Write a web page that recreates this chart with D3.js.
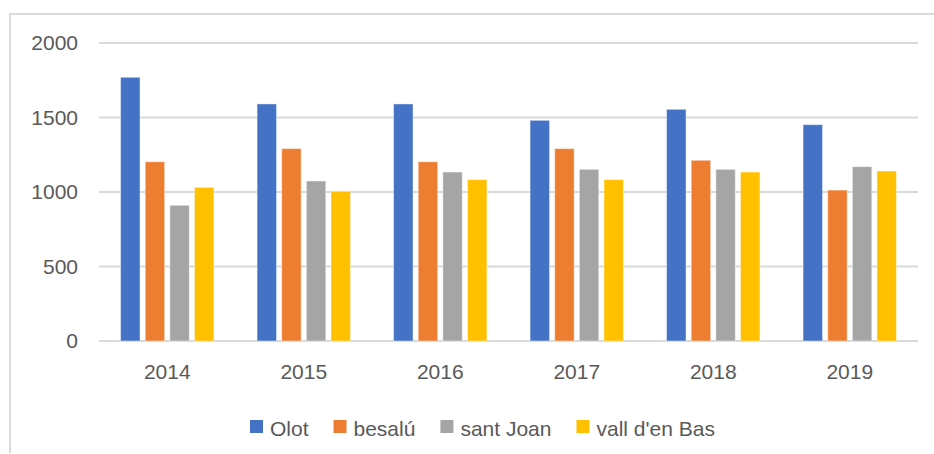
<!DOCTYPE html>
<html>
<head>
<meta charset="utf-8">
<script src="https://cdn.jsdelivr.net/npm/d3@7"></script>
<style>
  html, body { margin: 0; padding: 0; background: #fff; }
  svg { display: block; }
  text { font-family: "Liberation Sans", Arial, sans-serif; fill: #595959; }
</style>
</head>
<body>
<svg id="chart" width="934" height="454"></svg>
<script>
// Yearly figures per municipality
const years = ["2014", "2015", "2016", "2017", "2018", "2019"];
const seriesNames = ["Olot", "besalú", "sant Joan", "vall d'en Bas"];
const olot     = [1770, 1591, 1591, 1481, 1555, 1452];
const besalu   = [1203, 1291, 1203, 1291, 1213, 1013];
const santJoan = [911, 1074, 1134, 1152, 1152, 1170];
const vallBas  = [1031, 1005, 1083, 1083, 1134, 1141];
const yTicks = [0, 500, 1000, 1500, 2000];
const colors = ["#4472C4", "#ED7D31", "#A5A5A5", "#FFC000"];

const seriesValues = [olot, besalu, santJoan, vallBas];
const rows = years.map((y, i) => ({
  year: y,
  values: seriesNames.map((s, k) => ({ name: s, value: seriesValues[k][i] }))
}));

const svg = d3.select("#chart");

// chart frame
svg.append("path")
  .attr("d", "M10,453 V14 H934")
  .attr("fill", "none")
  .attr("stroke", "#d9d9d9")
  .attr("stroke-width", 2);

const plot = { left: 99, right: 918, top: 43, bottom: 341 };

const y = d3.scaleLinear().domain([0, 2000]).range([plot.bottom, plot.top]);
const x0 = d3.scaleBand().domain(years).range([plot.left, plot.right])
  .paddingInner(0.316).paddingOuter(0.158);
const x1 = d3.scaleBand().domain(seriesNames).range([0, x0.bandwidth()])
  .paddingInner(0.21).paddingOuter(0);
const color = d3.scaleOrdinal().domain(seriesNames).range(colors);

// gridlines
svg.append("g").selectAll("line").data(yTicks).join("line")
  .attr("x1", plot.left).attr("x2", plot.right)
  .attr("y1", d => y(d)).attr("y2", d => y(d))
  .attr("stroke", "#d9d9d9").attr("stroke-width", 2);

// y axis labels
const yAxis = d3.axisLeft(y).tickValues(yTicks).tickFormat(d3.format("d"))
  .tickSize(0).tickPadding(0);
const gy = svg.append("g").attr("transform", "translate(78,0)").call(yAxis);
gy.select(".domain").remove();
gy.selectAll("text")
  .attr("font-size", 21)
  .attr("font-family", "Liberation Sans, Arial, sans-serif")
  .attr("fill", "#595959");

// bars
svg.append("g").selectAll("g").data(rows).join("g")
  .attr("transform", d => `translate(${x0(d.year)},0)`)
  .selectAll("rect").data(d => d.values).join("rect")
  .attr("x", d => x1(d.name))
  .attr("width", x1.bandwidth())
  .attr("y", d => y(d.value))
  .attr("height", d => y(0) - y(d.value))
  .attr("fill", d => color(d.name))
  .attr("stroke", "#ffffff")
  .attr("stroke-opacity", 0.45)
  .attr("stroke-width", 1);

// x axis labels
const xAxis = d3.axisBottom(x0).tickSize(0).tickPadding(0);
const gx = svg.append("g").attr("transform", `translate(0,${plot.bottom + 23})`).call(xAxis);
gx.select(".domain").remove();
gx.selectAll("text")
  .attr("font-size", 21)
  .attr("font-family", "Liberation Sans, Arial, sans-serif")
  .attr("fill", "#595959");

// legend
const legend = svg.append("g").attr("transform", "translate(250,420)");
let lx = 0;
seriesNames.forEach((name, i) => {
  const item = legend.append("g").attr("transform", `translate(${lx},0)`);
  item.append("rect")
    .attr("width", 13).attr("height", 13)
    .attr("fill", color(name));
  const t = item.append("text")
    .attr("x", 20).attr("y", 16)
    .attr("font-size", 21)
    .text(name);
  lx += 20 + t.node().getComputedTextLength() + 25;
});
</script>
</body>
</html>
